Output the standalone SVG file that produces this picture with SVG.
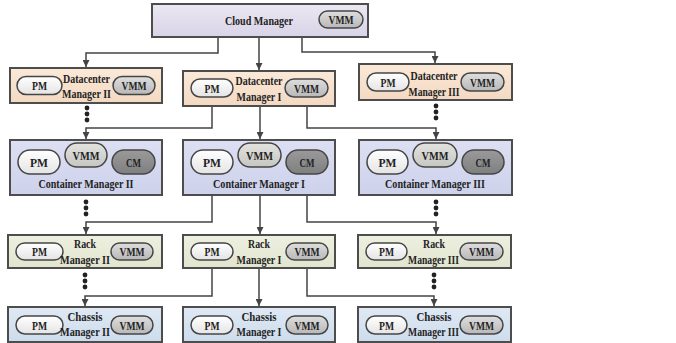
<svg xmlns="http://www.w3.org/2000/svg" width="676" height="343" viewBox="0 0 676 343">
<defs>
<marker id="arr" viewBox="0 0 8 8" refX="8" refY="4" markerWidth="7" markerHeight="7" markerUnits="userSpaceOnUse" orient="auto"><path d="M0,0 L8,4 L0,8 z" fill="#444"/></marker>
<linearGradient id="gPM" x1="0" y1="0" x2="0" y2="1"><stop offset="0" stop-color="#ffffff"/><stop offset="1" stop-color="#e4e4e4"/></linearGradient>
<linearGradient id="gVMM" x1="0" y1="0" x2="0" y2="1"><stop offset="0" stop-color="#dedede"/><stop offset="1" stop-color="#b8b8b8"/></linearGradient>
<linearGradient id="gVMM2" x1="0" y1="0" x2="0" y2="1"><stop offset="0" stop-color="#e2e2de"/><stop offset="1" stop-color="#c6c6c2"/></linearGradient>
<linearGradient id="gCM" x1="0" y1="0" x2="0" y2="1"><stop offset="0" stop-color="#9a9a9a"/><stop offset="1" stop-color="#7f7f7f"/></linearGradient>
<linearGradient id="gCloud" x1="0" y1="0" x2="0" y2="1"><stop offset="0" stop-color="#ebe8f3"/><stop offset="1" stop-color="#d8d3e7"/></linearGradient>
<linearGradient id="gDC" x1="0" y1="0" x2="0" y2="1"><stop offset="0" stop-color="#fbe9d8"/><stop offset="1" stop-color="#f3d9c2"/></linearGradient>
<linearGradient id="gCont" x1="0" y1="0" x2="0" y2="1"><stop offset="0" stop-color="#dde0f3"/><stop offset="1" stop-color="#cdd1eb"/></linearGradient>
<linearGradient id="gRack" x1="0" y1="0" x2="0" y2="1"><stop offset="0" stop-color="#eef0e0"/><stop offset="1" stop-color="#e1e5cf"/></linearGradient>
<linearGradient id="gCh" x1="0" y1="0" x2="0" y2="1"><stop offset="0" stop-color="#dfe9f4"/><stop offset="1" stop-color="#cddcec"/></linearGradient>
</defs>
<style>
.box{stroke:#4d4d4d;stroke-width:2}
.cloud{fill:url(#gCloud)}
.dc{fill:url(#gDC)}
.cont{fill:url(#gCont)}
.rack{fill:url(#gRack)}
.ch{fill:url(#gCh)}
.pill{stroke:#454545;stroke-width:1.5}
.pm{fill:url(#gPM)}
.vmm{fill:url(#gVMM)}
.vmm2{fill:url(#gVMM2)}
.cm{fill:url(#gCM)}
text{font-family:"Liberation Serif","Times New Roman",serif;font-weight:bold;fill:#232323;text-anchor:middle}
.lbl{font-size:13px}
.pt{font-size:12.5px}
.pt2{font-size:13.5px}
.conn{fill:none;stroke:#444;stroke-width:1.5}
.dot{fill:#222}
</style>

<g id="connectors">
<path class="conn" d="M218,37 V53 H86 V67" marker-end="url(#arr)"/>
<path class="conn" d="M259,37 V70" marker-end="url(#arr)"/>
<path class="conn" d="M302,37 V52 H435 V63" marker-end="url(#arr)"/>
<path class="conn" d="M212,106 V128 H86 V139" marker-end="url(#arr)"/>
<path class="conn" d="M260,106 V139" marker-end="url(#arr)"/>
<path class="conn" d="M307,106 V128 H436 V139" marker-end="url(#arr)"/>
<path class="conn" d="M212,195 V222 H86 V234" marker-end="url(#arr)"/>
<path class="conn" d="M260,195 V234" marker-end="url(#arr)"/>
<path class="conn" d="M307,195 V222 H436 V234" marker-end="url(#arr)"/>
<path class="conn" d="M212,268 V296 H85 V306" marker-end="url(#arr)"/>
<path class="conn" d="M259,268 V306" marker-end="url(#arr)"/>
<path class="conn" d="M307,268 V296 H434 V306" marker-end="url(#arr)"/>
<g class="dot">
<circle cx="87" cy="108" r="2.4"/><circle cx="87" cy="114" r="2.4"/><circle cx="87" cy="120" r="2.4"/>
<circle cx="436" cy="106" r="2.4"/><circle cx="436" cy="112" r="2.4"/><circle cx="436" cy="118" r="2.4"/>
<circle cx="86" cy="202" r="2.4"/><circle cx="86" cy="208" r="2.4"/><circle cx="86" cy="214" r="2.4"/>
<circle cx="436" cy="202" r="2.4"/><circle cx="436" cy="208" r="2.4"/><circle cx="436" cy="214" r="2.4"/>
<circle cx="85" cy="275" r="2.4"/><circle cx="85" cy="281" r="2.4"/><circle cx="85" cy="287" r="2.4"/>
<circle cx="434" cy="275" r="2.4"/><circle cx="434" cy="281" r="2.4"/><circle cx="434" cy="287" r="2.4"/>
</g>
</g>

<g id="cloud-manager">
<rect class="box cloud" x="152" y="4" width="216" height="33"/>
<text class="lbl" x="259" y="25" textLength="68" lengthAdjust="spacingAndGlyphs">Cloud Manager</text>
<rect class="pill vmm" x="319" y="11" width="44" height="17" rx="8.5"/>
<text class="pt" x="341" y="24" textLength="25" lengthAdjust="spacingAndGlyphs">VMM</text>
</g>

<g id="datacenter-manager-ii">
<rect class="box dc" x="10" y="68" width="152" height="35"/>
<rect class="pill pm" x="17" y="76.5" width="45" height="18" rx="9"/>
<text class="pt" x="39.5" y="90" textLength="15" lengthAdjust="spacingAndGlyphs">PM</text>
<rect class="pill vmm" x="113" y="76.5" width="42" height="18" rx="9"/>
<text class="pt" x="134" y="90" textLength="25" lengthAdjust="spacingAndGlyphs">VMM</text>
<text class="lbl" x="86.5" y="82.5" textLength="47" lengthAdjust="spacingAndGlyphs">Datacenter</text>
<text class="lbl" x="86.5" y="98" textLength="49" lengthAdjust="spacingAndGlyphs">Manager II</text>
</g>

<g id="datacenter-manager-i">
<rect class="box dc" x="183" y="71" width="152" height="35"/>
<rect class="pill pm" x="191" y="79" width="42" height="18" rx="9"/>
<text class="pt" x="212" y="92.5" textLength="15" lengthAdjust="spacingAndGlyphs">PM</text>
<rect class="pill vmm" x="285" y="79" width="43" height="18" rx="9"/>
<text class="pt" x="306.5" y="92.5" textLength="25" lengthAdjust="spacingAndGlyphs">VMM</text>
<text class="lbl" x="259" y="85" textLength="47" lengthAdjust="spacingAndGlyphs">Datacenter</text>
<text class="lbl" x="259" y="100.5" textLength="45" lengthAdjust="spacingAndGlyphs">Manager I</text>
</g>

<g id="datacenter-manager-iii">
<rect class="box dc" x="359" y="64" width="153" height="36"/>
<rect class="pill pm" x="367" y="73" width="42" height="18" rx="9"/>
<text class="pt" x="388" y="86.5" textLength="15" lengthAdjust="spacingAndGlyphs">PM</text>
<rect class="pill vmm" x="461" y="73" width="43" height="18" rx="9"/>
<text class="pt" x="482.5" y="86.5" textLength="25" lengthAdjust="spacingAndGlyphs">VMM</text>
<text class="lbl" x="434" y="80" textLength="47" lengthAdjust="spacingAndGlyphs">Datacenter</text>
<text class="lbl" transform="translate(434,95.5) scale(0.74,1)" x="0" y="0">Manager III</text>
</g>

<g id="container-manager-ii">
<rect class="box cont" x="10" y="140" width="152" height="55"/>
<rect class="pill pm" x="18" y="150" width="42" height="24" rx="12"/>
<text class="pt2" x="39" y="166.5" textLength="18" lengthAdjust="spacingAndGlyphs">PM</text>
<rect class="pill vmm2" x="65" y="143" width="42" height="24" rx="12"/>
<text class="pt2" x="86" y="159.5" textLength="27" lengthAdjust="spacingAndGlyphs">VMM</text>
<rect class="pill cm" x="112" y="150" width="43" height="24" rx="12"/>
<text class="pt2" x="133.5" y="166.5" textLength="15" lengthAdjust="spacingAndGlyphs">CM</text>
<text class="lbl" x="86" y="188" textLength="95" lengthAdjust="spacingAndGlyphs">Container Manager II</text>
</g>

<g id="container-manager-i">
<rect class="box cont" x="183" y="140" width="152" height="55"/>
<rect class="pill pm" x="191" y="150" width="42" height="24" rx="12"/>
<text class="pt2" x="212" y="166.5" textLength="18" lengthAdjust="spacingAndGlyphs">PM</text>
<rect class="pill vmm2" x="238" y="143" width="43" height="24" rx="12"/>
<text class="pt2" x="259.5" y="159.5" textLength="27" lengthAdjust="spacingAndGlyphs">VMM</text>
<rect class="pill cm" x="286" y="150" width="42" height="24" rx="12"/>
<text class="pt2" x="307" y="166.5" textLength="15" lengthAdjust="spacingAndGlyphs">CM</text>
<text class="lbl" x="259" y="188" textLength="92" lengthAdjust="spacingAndGlyphs">Container Manager I</text>
</g>

<g id="container-manager-iii">
<rect class="box cont" x="359" y="140" width="153" height="55"/>
<rect class="pill pm" x="367" y="150" width="41" height="24" rx="12"/>
<text class="pt2" x="387.5" y="166.5" textLength="18" lengthAdjust="spacingAndGlyphs">PM</text>
<rect class="pill vmm2" x="413" y="143" width="44" height="24" rx="12"/>
<text class="pt2" x="435" y="159.5" textLength="27" lengthAdjust="spacingAndGlyphs">VMM</text>
<rect class="pill cm" x="462" y="150" width="42" height="24" rx="12"/>
<text class="pt2" x="483" y="166.5" textLength="15" lengthAdjust="spacingAndGlyphs">CM</text>
<text class="lbl" x="435" y="188" textLength="100" lengthAdjust="spacingAndGlyphs">Container Manager III</text>
</g>

<g id="rack-manager-ii">
<rect class="box rack" x="8" y="235" width="154" height="33"/>
<rect class="pill pm" x="16" y="243" width="47" height="17" rx="8.5"/>
<text class="pt" x="39.5" y="256" textLength="15" lengthAdjust="spacingAndGlyphs">PM</text>
<rect class="pill vmm" x="111" y="243" width="42" height="17" rx="8.5"/>
<text class="pt" x="132" y="256" textLength="25" lengthAdjust="spacingAndGlyphs">VMM</text>
<text class="lbl" x="85" y="248" textLength="22" lengthAdjust="spacingAndGlyphs">Rack</text>
<text class="lbl" x="85" y="263.5" textLength="50" lengthAdjust="spacingAndGlyphs">Manager II</text>
</g>

<g id="rack-manager-i">
<rect class="box rack" x="183" y="235" width="152" height="33"/>
<rect class="pill pm" x="191" y="243" width="42" height="17" rx="8.5"/>
<text class="pt" x="212" y="256" textLength="15" lengthAdjust="spacingAndGlyphs">PM</text>
<rect class="pill vmm" x="286" y="243" width="42" height="17" rx="8.5"/>
<text class="pt" x="307" y="256" textLength="25" lengthAdjust="spacingAndGlyphs">VMM</text>
<text class="lbl" x="259" y="248" textLength="22" lengthAdjust="spacingAndGlyphs">Rack</text>
<text class="lbl" x="259" y="263.5" textLength="45" lengthAdjust="spacingAndGlyphs">Manager I</text>
</g>

<g id="rack-manager-iii">
<rect class="box rack" x="358" y="235" width="153" height="33"/>
<rect class="pill pm" x="366" y="243" width="41" height="17" rx="8.5"/>
<text class="pt" x="386.5" y="256" textLength="15" lengthAdjust="spacingAndGlyphs">PM</text>
<rect class="pill vmm" x="460" y="243" width="43" height="17" rx="8.5"/>
<text class="pt" x="481.5" y="256" textLength="25" lengthAdjust="spacingAndGlyphs">VMM</text>
<text class="lbl" x="434" y="248" textLength="22" lengthAdjust="spacingAndGlyphs">Rack</text>
<text class="lbl" transform="translate(433.5,263.5) scale(0.74,1)" x="0" y="0">Manager III</text>
</g>

<g id="chassis-manager-ii">
<rect class="box ch" x="8" y="307" width="154" height="35"/>
<rect class="pill pm" x="16" y="316" width="47" height="18" rx="9"/>
<text class="pt" x="39.5" y="329.5" textLength="15" lengthAdjust="spacingAndGlyphs">PM</text>
<rect class="pill vmm" x="111" y="316" width="42" height="18" rx="9"/>
<text class="pt" x="132" y="329.5" textLength="25" lengthAdjust="spacingAndGlyphs">VMM</text>
<text class="lbl" x="85" y="320.5" textLength="35" lengthAdjust="spacingAndGlyphs">Chassis</text>
<text class="lbl" x="85" y="336" textLength="50" lengthAdjust="spacingAndGlyphs">Manager II</text>
</g>

<g id="chassis-manager-i">
<rect class="box ch" x="183" y="307" width="152" height="35"/>
<rect class="pill pm" x="191" y="316" width="42" height="18" rx="9"/>
<text class="pt" x="212" y="329.5" textLength="15" lengthAdjust="spacingAndGlyphs">PM</text>
<rect class="pill vmm" x="286" y="316" width="42" height="18" rx="9"/>
<text class="pt" x="307" y="329.5" textLength="25" lengthAdjust="spacingAndGlyphs">VMM</text>
<text class="lbl" x="259" y="320.5" textLength="35" lengthAdjust="spacingAndGlyphs">Chassis</text>
<text class="lbl" x="259" y="336" textLength="45" lengthAdjust="spacingAndGlyphs">Manager I</text>
</g>

<g id="chassis-manager-iii">
<rect class="box ch" x="358" y="307" width="153" height="35"/>
<rect class="pill pm" x="366" y="316" width="41" height="18" rx="9"/>
<text class="pt" x="386.5" y="329.5" textLength="15" lengthAdjust="spacingAndGlyphs">PM</text>
<rect class="pill vmm" x="460" y="316" width="43" height="18" rx="9"/>
<text class="pt" x="481.5" y="329.5" textLength="25" lengthAdjust="spacingAndGlyphs">VMM</text>
<text class="lbl" x="434" y="320.5" textLength="35" lengthAdjust="spacingAndGlyphs">Chassis</text>
<text class="lbl" transform="translate(433.5,336) scale(0.74,1)" x="0" y="0">Manager III</text>
</g>
</svg>
